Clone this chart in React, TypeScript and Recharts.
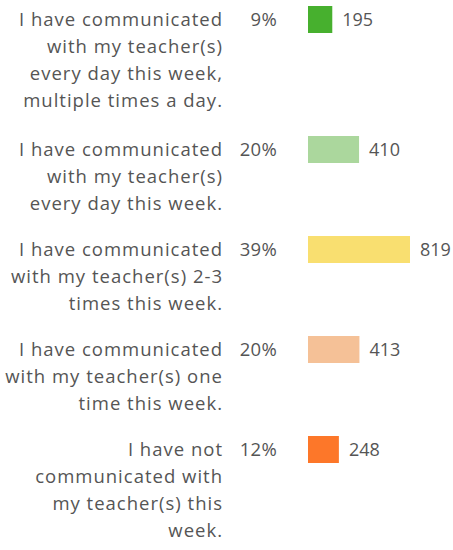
import { BarChart, Bar, XAxis, YAxis, Cell, LabelList } from 'recharts';

// answer options, wrapped the way the reference wraps them
const answers: string[][] = [
  ['I have communicated', 'with my teacher(s)', 'every day this week,', 'multiple times a day.'],
  ['I have communicated', 'with my teacher(s)', 'every day this week.'],
  ['I have communicated', 'with my teacher(s) 2-3', 'times this week.'],
  ['I have communicated', 'with my teacher(s) one', 'time this week.'],
  ['I have not', 'communicated with', 'my teacher(s) this', 'week.'],
];
const percents = ['9%', '20%', '39%', '20%', '12%'];
const counts = [195, 410, 819, 413, 248];
const colors = ['#47b02e', '#abd79d', '#f9df70', '#f5c197', '#fd7729'];

const WIDTH = 453;
const ROW_HEIGHTS = [130, 100, 100, 100, 120];
const BAR = 30;
const TOP = 4;
const LINE_H = 27;
const FONT = '"Open Sans", "Noto Sans", sans-serif';
const FS = 18.5;
const LS = 1;
const TEXT = '#555555';
const maxCount = Math.max(...counts);

function RowTick(props: any) {
  const { y, payload } = props;
  const i = Number(payload.value);
  const lines = answers[i];
  return (
    <g>
      <text x={223} y={y} textAnchor="end" fill={TEXT} fontSize={FS} fontFamily={FONT} letterSpacing={LS}>
        {lines.map((ln, k) => (
          <tspan key={k} x={223} y={y + 7 + k * LINE_H}>
            {ln}
          </tspan>
        ))}
      </text>
      <text x={277} y={y + 7} textAnchor="end" fill={TEXT} fontSize={FS} fontFamily={FONT} letterSpacing={0.3}>
        {percents[i]}
      </text>
    </g>
  );
}

export default function App() {
  return (
    <div style={{ position: 'absolute', left: 0, top: 0, width: WIDTH, background: '#fff' }}>
      {counts.map((c, i) => {
        const h = ROW_HEIGHTS[i];
        const row = [{ idx: i, count: c }];
        return (
          <BarChart
            key={i}
            width={WIDTH}
            height={h}
            data={row}
            layout="vertical"
            margin={{ top: TOP, right: 43, left: 0, bottom: h - TOP - BAR }}
          >
            <XAxis type="number" domain={[0, maxCount]} hide />
            <YAxis
              type="category"
              dataKey="idx"
              width={308}
              axisLine={false}
              tickLine={false}
              tick={<RowTick />}
              interval={0}
            />
            <Bar dataKey="count" barSize={BAR} isAnimationActive={false}>
              <Cell fill={colors[i]} />
              <LabelList
                dataKey="count"
                position="right"
                offset={10}
                fill={TEXT}
                fontSize={18}
                fontFamily={FONT}
              />
            </Bar>
          </BarChart>
        );
      })}
    </div>
  );
}
